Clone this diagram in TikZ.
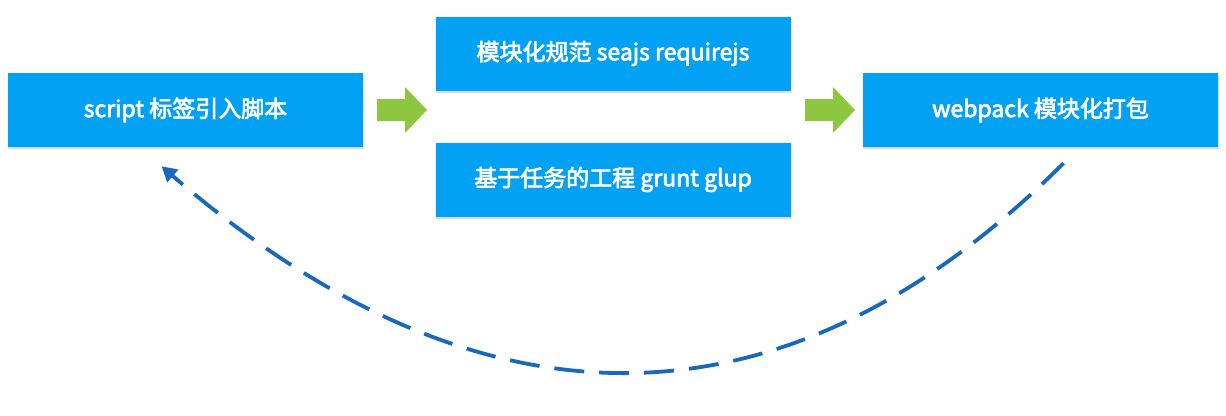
\documentclass[tikz,border=0pt]{standalone}
\usepackage{fontspec}
\setmainfont{Noto Sans CJK SC}
\newfontfamily\boxfont{Noto Sans CJK SC}[FakeBold=3]
\usetikzlibrary{arrows.meta,calc,shadows.blur}
\definecolor{boxblue}{RGB}{3,161,244}
\definecolor{arrowgreen}{RGB}{141,198,63}
\definecolor{dashblue}{RGB}{24,104,190}
\begin{document}
\begin{tikzpicture}[x=1pt,y=-1pt,
  box/.style={fill=boxblue, minimum width=355pt, minimum height=74pt, inner sep=0pt,
    text=white, font=\boxfont\fontsize{23}{26}\selectfont,
    blur shadow={shadow opacity=20, shadow xshift=0.5pt, shadow yshift=-1.5pt, shadow blur radius=1.5pt}},
  blockarrow/.style={fill=arrowgreen},
  dashline/.style={draw=dashblue, line width=3.8pt, dash pattern=on 30pt off 15pt,
    -{Triangle[length=15pt,width=16pt]}}]
\useasboundingbox (0,0) rectangle (1226,415);
\node[box] (script) at (185.5,110) {script 标签引入脚本};
\node[box] (spec) at (613,53.5) {模块化规范 seajs requirejs};
\node[box] (task) at (613,179.5) {基于任务的工程 grunt glup};
\node[box] (webpack) at (1040.5,110) {webpack 模块化打包};
% green block arrows
\fill[blockarrow] (377,99) -- (405,99) -- (405,87) -- (427,110) -- (405,133) -- (405,121) -- (377,121) -- cycle;
\fill[blockarrow] (805,99) -- (833,99) -- (833,87) -- (855,110) -- (833,133) -- (833,121) -- (805,121) -- cycle;
% dashed return arc
\coordinate (arcstart) at ($(webpack.south)+(23,16)$);
\coordinate (arcend) at ($(script.south)+(-24,19)$);
\draw[dashline] (arcstart) .. controls (785,441) and (480,441) .. (arcend);
\end{tikzpicture}
\end{document}
